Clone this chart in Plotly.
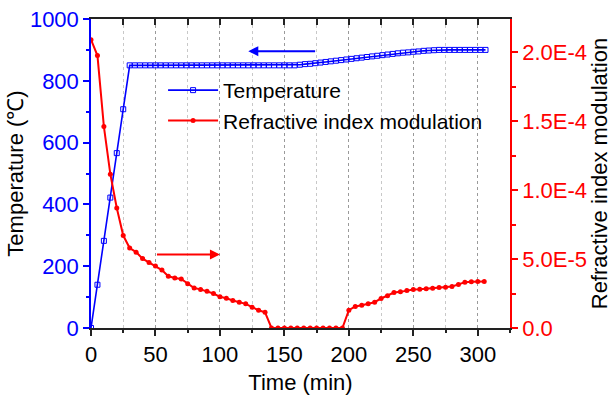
import plotly.graph_objects as go

# ---- data ----
temp_time = [0, 5, 10, 15, 20, 25, 30] + list(range(34, 307, 4))
temp_vals = [0, 140, 282, 422, 566, 708, 850,
             # 34 .. 158
             850, 850, 850, 850, 850, 850, 850, 850, 850, 850,
             850, 850, 850, 850, 850, 850, 850, 850, 850, 850,
             850, 850, 850, 850, 850, 850, 850, 850, 850, 850, 850, 850,
             # 162 .. 270
             852, 854, 855, 857, 859, 861, 863, 865, 867, 869,
             871, 873, 875, 877, 879, 881, 883, 885, 887, 889,
             891, 892, 894, 895, 897, 898, 899, 900,
             # 274 .. 306
             900, 900, 900, 900, 900, 900, 900, 900, 900]

rim_time = list(range(0, 306, 5))
rim_vals_e4 = [2.09, 1.975, 1.46, 1.115, 0.87, 0.67, 0.58, 0.55, 0.503, 0.475,
               0.45, 0.42, 0.375, 0.362, 0.356, 0.32, 0.29, 0.28, 0.267, 0.25,
               0.226, 0.216, 0.199, 0.187, 0.175, 0.151, 0.129, 0.114,
               0, 0, 0, 0, 0, 0, 0, 0, 0, 0, 0, 0,
               0.129, 0.156, 0.165, 0.175, 0.187, 0.214, 0.233, 0.257, 0.262, 0.272,
               0.279, 0.281, 0.284, 0.289, 0.294, 0.296, 0.301, 0.316, 0.332, 0.335,
               0.337, 0.337]
rim_vals = [v * 1e-4 for v in rim_vals_e4]

x_ticks = [0, 50, 100, 150, 200, 250, 300]
y_ticks = [0, 200, 400, 600, 800, 1000]
y2_ticks = [0, 5e-5, 1e-4, 1.5e-4, 2e-4]
y2_labels = ["0.0", "5.0E-5", "1.0E-4", "1.5E-4", "2.0E-4"]

FONT = "Liberation Sans, Arial, sans-serif"
FS = 22
BLUE = "#0000ff"
RED = "#ff0000"

fig = go.Figure()
fig.add_trace(go.Scatter(
    x=temp_time, y=temp_vals, name="Temperature", mode="lines+markers",
    line=dict(color=BLUE, width=1.6),
    marker=dict(symbol="square-open", size=5, color=BLUE, line=dict(width=1)),
    yaxis="y"))
fig.add_trace(go.Scatter(
    x=rim_time, y=rim_vals, name="Refractive index modulation", mode="lines+markers",
    line=dict(color=RED, width=2),
    marker=dict(symbol="circle", size=5, color=RED),
    yaxis="y2"))
# invisible trace for top axis
fig.add_trace(go.Scatter(x=[0], y=[0], xaxis="x2", yaxis="y", showlegend=False,
                         mode="markers", marker=dict(opacity=0), hoverinfo="skip"))

fig.update_layout(
    width=612, height=398,
    margin=dict(l=91, r=102, t=19, b=70),
    paper_bgcolor="white", plot_bgcolor="white",
    font=dict(family=FONT, size=FS, color="black"),
    showlegend=True,
    legend=dict(x=0.172, y=0.835, xanchor="left", yanchor="top",
                bgcolor="rgba(0,0,0,0)", font=dict(size=FS - 1),
                itemwidth=50, tracegroupgap=0),
    xaxis=dict(
        automargin=False,
        range=[0, 325], tickvals=x_ticks, ticks="outside", ticklen=6, tickwidth=1.5,
        tickcolor="#222", showline=True, linecolor="#222", linewidth=1.5,
        showgrid=True, gridcolor="#9a9a9a", griddash="dot", gridwidth=1,
        zeroline=False,
        minor=dict(dtick=25, tick0=0, ticks="outside", ticklen=3, tickcolor="#222",
                   showgrid=True, gridcolor="#c8c8c8", griddash="dot"),
        title=dict(text="Time (min)", font=dict(size=FS), standoff=8),
        tickfont=dict(size=FS),
    ),
    xaxis2=dict(
        automargin=False,
        range=[0, 325], overlaying="x", side="top", tickvals=x_ticks, showticklabels=False,
        ticks="inside", ticklen=6, tickwidth=1.5, tickcolor="#222",
        showline=True, linecolor="#222", linewidth=1.5, showgrid=False, zeroline=False,
        minor=dict(dtick=25, tick0=0, ticks="inside", ticklen=6, tickcolor="#222"),
    ),
    yaxis=dict(
        automargin=False,
        range=[0, 1000], tickvals=y_ticks, ticks="outside", ticklen=6, tickwidth=1.5,
        tickcolor=BLUE, showline=True, linecolor=BLUE, linewidth=1.5,
        showgrid=False, zeroline=False,
        minor=dict(dtick=100, tick0=0, ticks="outside", ticklen=3, tickcolor=BLUE),
        tickfont=dict(size=FS, color=BLUE),
        title=dict(text="Temperature (℃)", font=dict(size=FS, color="black"), standoff=0),
    ),
    yaxis2=dict(
        automargin=False,
        range=[0, 2.24e-4], overlaying="y", side="right", anchor="x",
        tickvals=y2_ticks, ticktext=y2_labels, ticks="outside", ticklen=6, tickwidth=1.5,
        tickcolor=RED, showline=True, linecolor=RED, linewidth=1.5,
        showgrid=False, zeroline=False,
        minor=dict(dtick=2.5e-5, tick0=0, ticks="outside", ticklen=4, tickcolor=RED),
        tickfont=dict(size=FS, color=RED),
        title=dict(text="Refractive index modulation", font=dict(size=FS, color="black"),
                   standoff=6),
    ),
    annotations=[
        dict(x=122, y=896, ax=175, ay=896, xref="x", yref="y", axref="x", ayref="y",
             text="", showarrow=True, arrowhead=2, arrowsize=1, arrowwidth=2,
             arrowcolor=BLUE),
        dict(x=100, y=238, ax=50, ay=238, xref="x", yref="y", axref="x", ayref="y",
             text="", showarrow=True, arrowhead=2, arrowsize=1, arrowwidth=2,
             arrowcolor=RED),
    ],
)

fig.write_html("out.html")
